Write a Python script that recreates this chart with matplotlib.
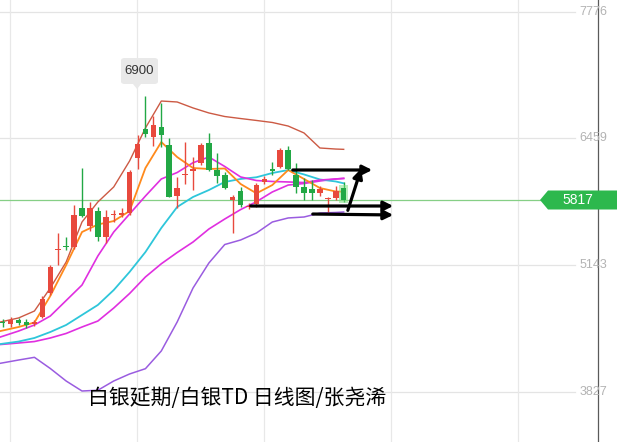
import matplotlib
matplotlib.use("Agg")
import matplotlib.pyplot as plt
from matplotlib.patches import Polygon, FancyArrowPatch, FancyBboxPatch
import numpy as np

# ---------------- data (daily candles) ----------------
opens  = [4552, 4531, 4573, 4555, 4531, 4607, 4850, 5301, 5340, 5328, 5733, 5549,
          5708, 5432, 5664, 5664, 5681, 6253, 6554, 6469, 6578, 6391, 5856, 6080,
          6122, 6201, 6409, 6131, 6079, 5820, 5918, 5747, 5778, 6010, 6139, 6166,
          6344, 6079, 5952, 5931, 5889, 5830, 5837, 5941]
highs  = [4583, 4604, 4594, 4583, 4573, 4822, 5144, 5477, 5435, 5768, 6149, 5799,
          5747, 5716, 5716, 5736, 6131, 6495, 6900, 6692, 6828, 6464, 6059, 6425,
          6270, 6412, 6516, 6308, 6111, 5872, 5955, 5789, 5996, 6069, 6214, 6360,
          6381, 6204, 6048, 6027, 5965, 5851, 5965, 6007]
lows   = [4500, 4500, 4521, 4490, 4510, 4594, 4833, 5144, 5300, 5311, 5643, 5498,
          5394, 5373, 5591, 5643, 5664, 6142, 6474, 6381, 6370, 5851, 5737, 5990,
          5924, 6183, 6121, 5996, 5934, 5477, 5747, 5726, 5747, 5986, 6079, 6152,
          6131, 5892, 5820, 5820, 5861, 5695, 5820, 5799]
closes = [4542, 4573, 4545, 4521, 4555, 4788, 5127, 5311, 5330, 5664, 5656, 5736,
          5432, 5640, 5674, 5685, 6114, 6401, 6502, 6599, 6495, 5854, 5941, 6090,
          6139, 6391, 6131, 6064, 5944, 5854, 5768, 5757, 5975, 6034, 6116, 6334,
          6139, 5958, 5889, 5896, 5931, 5837, 5916, 5817]

# indicator lines, sampled at these candle positions
line_x = [-0.3, 2, 4, 6, 8, 10, 12, 14, 16, 18, 20, 22, 24, 26, 28, 30, 32, 34,
          36, 38, 40, 42, 43]
boll_upper = [4552, 4594, 4666, 4905, 5175, 5591, 5799, 5955, 6225, 6568, 6848,
              6838, 6776, 6724, 6687, 6666, 6646, 6625, 6588, 6516, 6360, 6349, 6346]
ma_orange = [4458, 4500, 4547, 4822, 5144, 5487, 5565, 5601, 5705, 6152, 6422,
             6266, 6152, 6142, 6147, 5986, 5889, 5975, 6131, 6038, 5944, 5908, 5906]
ma_cyan = [4323, 4349, 4386, 4448, 4521, 4625, 4729, 4884, 5072, 5279, 5529,
           5747, 5851, 5923, 6007, 6038, 6056, 6100, 6131, 6085, 6033, 6012, 5993]
ma_magenta = [4396, 4458, 4521, 4614, 4775, 4936, 5238, 5487, 5674, 5861, 6038,
              6105, 6207, 6266, 6168, 6059, 6022, 6012, 6007, 6001, 6027, 6038, 6045]
ma_magenta2 = [4318, 4334, 4349, 4386, 4433, 4500, 4562, 4697, 4848, 5020, 5157,
               5274, 5383, 5518, 5622, 5720, 5802, 5903, 5975, 5991, 6017, 6038, 6043]
boll_lower = [4123, 4157, 4185, 4069, 3939, 3835, 3843, 3939, 4012, 4067, 4251,
              4552, 4905, 5165, 5357, 5404, 5477, 5591, 5633, 5643, 5684, 5690, 5695]

axis_ticks = [7776, 6459, 5143, 3827]
last_price = 5817
peak_label = "6900"
title = "白银延期/白银TD 日线图/张尧浠"

# ---------------- figure ----------------
W, H = 617, 442
fig = plt.figure(figsize=(W / 100, H / 100), dpi=100)
ax = fig.add_axes([0, 0, 1, 1])
ax.set_axis_off()

X0, DX = 2.7, 7.93          # pixel position of first candle, pixel step
P0, DP = 7897.6, 10.39      # price at top pixel row, price per pixel
ax.set_xlim((0 - X0) / DX, (W - X0) / DX)
ax.set_ylim(P0 - DP * H, P0)

def fx(px):  # figure fraction from pixel
    return px / W
def fy(py):
    return 1 - py / H

# grid
for v in axis_ticks:
    ax.axhline(v, xmin=0, xmax=575 / W, color="#e4e4e4", lw=0.9, zorder=0)
for gx in [10, 137, 264, 391, 518]:
    ax.axvline((gx - X0) / DX, color="#e8e8e8", lw=0.9, zorder=0)
ax.axvline((598 - X0) / DX, color="#5a5a5a", lw=0.9, zorder=1)

for v in axis_ticks:
    ax.text((593 - X0) / DX, v, str(v), ha="center", va="center", fontsize=9,
            color="#b3b3b3", family="Liberation Sans", zorder=2)

# last price line
ax.axhline(last_price, xmin=0, xmax=540 / W, color="#86cf86", lw=0.9, zorder=1)

# indicator lines
ax.plot(line_x, boll_upper, color="#cc5a44", lw=1.0, zorder=3)
ax.plot(line_x, boll_lower, color="#9a5ce0", lw=1.1, zorder=3)
ax.plot(line_x, ma_magenta2, color="#e02fe0", lw=1.2, zorder=3)
ax.plot(line_x, ma_cyan, color="#2ec6da", lw=1.3, zorder=3)
ax.plot(line_x, ma_magenta, color="#e02fe0", lw=1.2, zorder=3)
ax.plot(line_x, ma_orange, color="#ff8a1c", lw=1.3, zorder=4)

# candles
idx = np.arange(len(opens))
o = np.array(opens); c = np.array(closes)
up = c >= o
cols = np.where(up, "#e8493d", "#22a845")
ax.vlines(idx, lows, highs, colors=cols, lw=1.0, zorder=5)
bottoms = np.minimum(o, c)
heights = np.maximum(np.abs(c - o), 14)
ax.bar(idx, heights, bottom=bottoms, width=0.7, color=cols, zorder=6, linewidth=0)
# glow on the last candle
ax.bar(idx[-1], heights[-1] + 60, bottom=bottoms[-1] - 30, width=1.2,
       color="#7be07b", alpha=0.5, zorder=5.5, linewidth=0)

# price tag
tag = Polygon([(fx(540), fy(200)), (fx(548), fy(190.5)), (fx(617), fy(190.5)),
               (fx(617), fy(209.5)), (fx(548), fy(209.5))], closed=True,
              transform=fig.transFigure, facecolor="#2db84d", edgecolor="none",
              zorder=10)
fig.add_artist(tag)
fig.text(fx(578), fy(200.5), str(last_price), ha="center", va="center",
         color="white", fontsize=10, family="Liberation Sans", zorder=11)

# 6900 callout
box = FancyBboxPatch((fx(121), fy(84)), fx(37), 26 / H,
                     boxstyle="round,pad=0,rounding_size=0.006",
                     transform=fig.transFigure, facecolor="#e9e9e9",
                     edgecolor="none", zorder=10)
fig.add_artist(box)
tri = Polygon([(fx(133), fy(84)), (fx(141), fy(84)), (fx(137), fy(89))],
              closed=True, transform=fig.transFigure, facecolor="#e9e9e9",
              edgecolor="none", zorder=10)
fig.add_artist(tri)
fig.text(fx(139.5), fy(71), peak_label, ha="center", va="center", fontsize=9.5,
         color="#333333", family="Liberation Sans", zorder=11)

# black arrows
arrows = [((290, 170), (375, 170)), ((248, 206), (396, 206)),
          ((310, 214), (396, 215)), ((347, 213), (362, 166))]
for (x1, y1), (x2, y2) in arrows:
    a = FancyArrowPatch((fx(x1), fy(y1)), (fx(x2), fy(y2)),
                        transform=fig.transFigure, arrowstyle="-|>",
                        mutation_scale=14, lw=2.3, color="black", zorder=12)
    fig.add_artist(a)

# caption
fig.text(fx(237), fy(398), title, ha="center", va="center", fontsize=15,
         color="black", family=["Noto Sans CJK SC", "DejaVu Sans"], zorder=12)

fig.savefig("out.png", dpi=100, facecolor="white")
